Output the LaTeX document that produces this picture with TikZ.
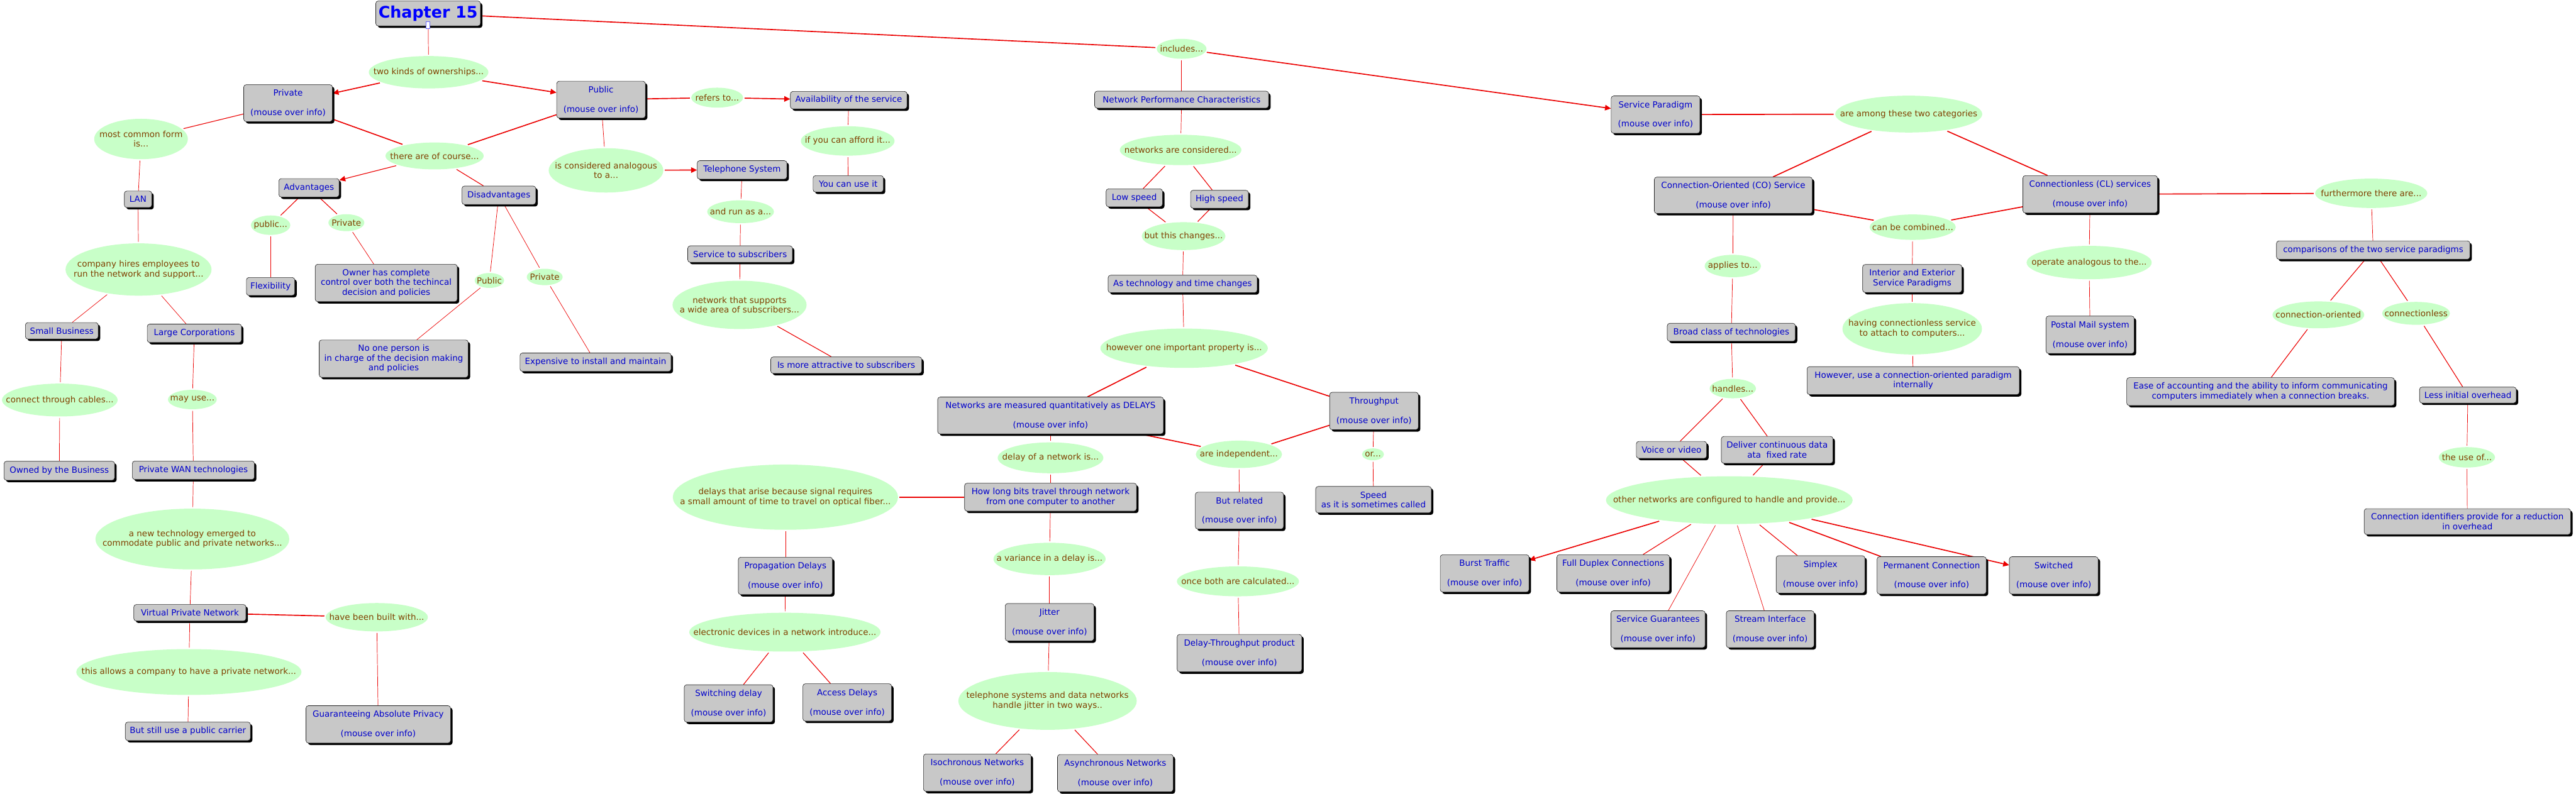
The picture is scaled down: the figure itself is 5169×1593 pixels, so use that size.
\documentclass[tikz,border=0pt]{standalone}
\usepackage{fontspec}
\setmainfont{DejaVu Sans}
\usetikzlibrary{arrows.meta,shapes.geometric,shadows,backgrounds}

\definecolor{conceptblue}{RGB}{0,0,204}
\definecolor{titleblue}{RGB}{0,0,255}
\definecolor{linkbrown}{RGB}{128,64,0}
\definecolor{linkfill}{RGB}{200,255,200}
\definecolor{boxgray}{RGB}{200,200,200}
\definecolor{linkred}{RGB}{235,0,0}

\tikzset{
  concept/.style={rectangle, rounded corners=5pt, draw=black!85, line width=0.8pt,
    fill=boxgray, text=conceptblue, font=\fontsize{17}{19.5}\selectfont,
    align=center, inner sep=2pt,
    drop shadow={shadow xshift=4pt, shadow yshift=-4pt, fill=black, opacity=1}},
  link/.style={ellipse, fill=linkfill, inner sep=0pt, outer sep=3pt},
  linktext/.style={text=linkbrown, font=\fontsize{17}{19.5}\selectfont, align=center, inner sep=0pt},
  conn/.style={draw=linkred, line width=0.9pt},
  connm/.style={conn, line width=1.4pt},
  connt/.style={conn, line width=2.1pt},
  arr/.style={-{Triangle[length=12pt,width=11pt]}, fill=linkred},
}

% link phrase: name, centre, width, height, text
\newcommand{\linknode}[5]{%
  \node[link, minimum width=#3, minimum height=#4] (#1) at (#2) {};
  \node[linktext] (#1-t) at (#1) {#5};}

\begin{document}
\begin{tikzpicture}[x=1pt, y=-1pt]
\useasboundingbox (0,0) rectangle (5169,1593);

% title
\node[concept, font=\fontsize{32}{36}\selectfont\bfseries, text=titleblue,
  minimum width=210, minimum height=50] (chap) at (859,27) {Chapter 15};
\node[draw=blue!60, fill=white, minimum width=7, minimum height=14, inner sep=0pt] (icon) at (858,50) {};

% ownership branch
\linknode{twokinds}{860,145}{240}{65}{two kinds of ownerships...}
\node[concept, minimum width=178, minimum height=74] (priv) at (578,207) {Private\\[19.5pt](mouse over info)};
\node[concept, minimum width=178, minimum height=74] (pub) at (1206,200) {Public\\[19.5pt](mouse over info)};
\linknode{common}{283,279}{188}{81}{most common form\\is...}
\linknode{ofcourse}{872,313}{197}{54}{there are of course...}
\linknode{analog}{1216,342}{230}{89}{is considered analogous\\to a...}
\node[concept, minimum width=121, minimum height=37] (adv) at (620,377) {Advantages};
\node[concept, minimum width=148, minimum height=37] (disadv) at (1001,392) {Disadvantages};
\node[concept, minimum width=55, minimum height=33] (lan) at (277,400) {LAN};
\linknode{hires}{278,541}{293}{105}{company hires employees to\\run the network and support...}
\linknode{pubdots}{543,452}{79}{39}{public...}
\linknode{privadv}{695,447}{72}{34}{Private}
\linknode{pubdis}{982,563}{59}{30}{Public}
\linknode{privdis}{1093,556}{72}{33}{Private}
\node[concept, minimum width=97, minimum height=36] (flex) at (543,575) {Flexibility};
\node[concept, minimum width=285, minimum height=75] (owner) at (775,568) {Owner has complete\\control over both the techincal\\decision and policies};
\node[concept, minimum width=299, minimum height=75] (noone) at (790,720) {No one person is\\in charge of the decision making\\and policies};
\node[concept, minimum width=303, minimum height=37] (expens) at (1195,727) {Expensive to install and maintain};
\node[concept, minimum width=146, minimum height=33] (small) at (124,664) {Small Business};
\node[concept, minimum width=189, minimum height=37] (large) at (390,669) {Large Corporations};
\linknode{cables}{120,803}{232}{66}{connect through cables...}
\linknode{mayuse}{386,802}{98}{39}{may use...}
\node[concept, minimum width=222, minimum height=38] (owned) at (119,945) {Owned by the Business};
\node[concept, minimum width=245, minimum height=37] (pwan) at (388,944) {Private WAN technologies};
\linknode{newtech}{386,1082}{389}{122}{a new technology emerged to\\commodate public and private networks...}
\node[concept, minimum width=225, minimum height=33] (vpn) at (381,1230) {Virtual Private Network};
\linknode{built}{756,1239}{205}{57}{have been built with...}
\linknode{allows}{379,1349}{452}{92}{this allows a company to have a private network...}
\node[concept, minimum width=290, minimum height=75] (guar) at (759,1454) {Guaranteeing Absolute Privacy\\[19.5pt](mouse over info)};
\node[concept, minimum width=251, minimum height=37] (still) at (377,1468) {But still use a public carrier};

% public network branch
\linknode{refers}{1439,196}{104}{40}{refers to...}
\node[concept, minimum width=234, minimum height=35] (avail) at (1703,201) {Availability of the service};
\linknode{afford}{1701,283}{188}{59}{if you can afford it...}
\node[concept, minimum width=141, minimum height=33] (canuse) at (1702,369) {You can use it};
\node[concept, minimum width=180, minimum height=37] (tel) at (1489,341) {Telephone System};
\linknode{runas}{1486,425}{134}{46}{and run as a...}
\node[concept, minimum width=210, minimum height=33] (svcsub) at (1485,510) {Service to subscribers};
\linknode{supports}{1484,612}{269}{97}{network that supports\\a wide area of subscribers...}
\node[concept, minimum width=303, minimum height=33] (attract) at (1698,733) {Is more attractive to subscribers};

% performance branch
\linknode{includes}{2371,98}{100}{40}{includes...}
\node[concept, minimum width=349, minimum height=34] (npc) at (2371,200) {Network Performance Characteristics};
\linknode{considered}{2369,301}{244}{61}{networks are considered...}
\node[concept, minimum width=113, minimum height=36] (low) at (2276,397) {Low speed};
\node[concept, minimum width=116, minimum height=36] (high) at (2447,400) {High speed};
\linknode{changes}{2375,474}{168}{56}{but this changes...}
\node[concept, minimum width=299, minimum height=35] (astech) at (2373,570) {As technology and time changes};
\linknode{property}{2376,699}{336}{79}{however one important property is...}
\node[concept, minimum width=453, minimum height=74] (meas) at (2108,834) {Networks are measured quantitatively as DELAYS\\[19.5pt](mouse over info)};
\node[concept, minimum width=178, minimum height=75] (thru) at (2757,825) {Throughput\\[19.5pt](mouse over info)};
\linknode{delayis}{2108,919}{212}{62}{delay of a network is...}
\linknode{indep}{2486,912}{173}{55}{are independent...}
\linknode{orr}{2755,912}{44}{24}{or...}
\node[concept, minimum width=232, minimum height=53] (speed) at (2756,1003) {Speed\\as it is sometimes called};
\node[concept, minimum width=345, minimum height=56] (howlong) at (2108,998) {How long bits travel through network\\from one computer to another};
\linknode{arise}{1576,998}{452}{131}{delays that arise because signal requires\\a small amount of time to travel on optical fiber...}
\node[concept, minimum width=177, minimum height=74] (related) at (2487,1025) {But related\\[19.5pt](mouse over info)};
\node[concept, minimum width=189, minimum height=75] (prop) at (1576,1156) {Propagation Delays\\[19.5pt](mouse over info)};
\linknode{electronic}{1575,1269}{384}{78}{electronic devices in a network introduce...}
\node[concept, minimum width=178, minimum height=75] (switchd) at (1462,1412) {Switching delay\\[19.5pt](mouse over info)};
\node[concept, minimum width=178, minimum height=75] (access) at (1700,1410) {Access Delays\\[19.5pt](mouse over info)};
\linknode{variance}{2106,1122}{225}{65}{a variance in a delay is...}
\node[concept, minimum width=178, minimum height=75] (jitter) at (2106,1249) {Jitter\\[19.5pt](mouse over info)};
\linknode{twoways}{2102,1407}{358}{116}{telephone systems and data networks\\handle jitter in two ways..}
\node[concept, minimum width=216, minimum height=75] (iso) at (1961,1551) {Isochronous Networks\\[19.5pt](mouse over info)};
\node[concept, minimum width=232, minimum height=75] (async) at (2238,1552) {Asynchronous Networks\\[19.5pt](mouse over info)};
\linknode{calc}{2484,1167}{245}{60}{once both are calculated...}
\node[concept, minimum width=250, minimum height=75] (dtp) at (2487,1311) {Delay-Throughput product\\[19.5pt](mouse over info)};

% service paradigm branch
\node[concept, minimum width=178, minimum height=75] (sp) at (3322,230) {Service Paradigm\\[19.5pt](mouse over info)};
\linknode{among}{3830,229}{295}{74}{are among these two categories}
\node[concept, minimum width=317, minimum height=73] (co) at (3478,392) {Connection-Oriented (CO) Service\\[19.5pt](mouse over info)};
\node[concept, minimum width=270, minimum height=75] (cl) at (4194,390) {Connectionless (CL) services\\[19.5pt](mouse over info)};
\linknode{combined}{3838,456}{173}{51}{can be combined...}
\node[concept, minimum width=199, minimum height=56] (interior) at (3837,559) {Interior and Exterior\\Service Paradigms};
\linknode{attach}{3837,660}{280}{103}{having connectionless service\\to attach to computers...}
\node[concept, minimum width=426, minimum height=56] (however) at (3839,764) {However, use a connection-oriented paradigm\\internally};
\linknode{applies}{3477,534}{113}{45}{applies to...}
\node[concept, minimum width=257, minimum height=36] (broad) at (3474,667) {Broad class of technologies};
\linknode{handles}{3477,780}{93}{39}{handles...}
\node[concept, minimum width=141, minimum height=34] (voice) at (3354,903) {Voice or video};
\node[concept, minimum width=224, minimum height=54] (deliver) at (3566,903) {Deliver continuous data\\ata\ \ fixed rate};
\linknode{provide}{3470,1004}{495}{96}{other networks are configured to handle and provide...}
\node[concept, minimum width=178, minimum height=75] (burst) at (2979,1151) {Burst Traffic\\[19.5pt](mouse over info)};
\node[concept, minimum width=226, minimum height=75] (duplex) at (3237,1151) {Full Duplex Connections\\[19.5pt](mouse over info)};
\node[concept, minimum width=189, minimum height=74] (guarant) at (3327,1263) {Service Guarantees\\[19.5pt](mouse over info)};
\node[concept, minimum width=176, minimum height=74] (stream) at (3552,1263) {Stream Interface\\[19.5pt](mouse over info)};
\node[concept, minimum width=178, minimum height=75] (simplex) at (3653,1153) {Simplex\\[19.5pt](mouse over info)};
\node[concept, minimum width=219, minimum height=75] (perm) at (3876,1155) {Permanent Connection\\[19.5pt](mouse over info)};
\node[concept, minimum width=178, minimum height=75] (switched) at (4121,1155) {Switched\\[19.5pt](mouse over info)};
\linknode{operate}{4192,527}{251}{67}{operate analogous to the...}
\node[concept, minimum width=177, minimum height=75] (postal) at (4194,672) {Postal Mail system\\[19.5pt](mouse over info)};
\linknode{further}{4758,388}{225}{59}{furthermore there are...}
\node[concept, minimum width=388, minimum height=37] (compar) at (4762,502) {comparisons of the two service paradigms};
\linknode{cooriented}{4652,632}{184}{54}{connection-oriented}
\linknode{connless}{4848,629}{136}{46}{connectionless}
\node[concept, minimum width=537, minimum height=56] (ease) at (4536,786) {Ease of accounting and the ability to inform communicating\\computers immediately when a connection breaks.};
\node[concept, minimum width=194, minimum height=32] (less) at (4952,793) {Less initial overhead};
\linknode{useof}{4950,918}{113}{41}{the use of...}
\node[concept, minimum width=414, minimum height=52] (ident) at (4951,1047) {Connection identifiers provide for a reduction\\in overhead};

% connectors
\begin{scope}[on background layer]
\draw[conn] (chap) -- (twokinds);
\draw[connt] (chap) -- (includes);
\draw[connt, arr] (twokinds) -- (priv);
\draw[connt, arr] (twokinds) -- (pub);
\draw[connm] (priv) -- (common);
\draw[connt] (priv) -- (ofcourse);
\draw[connt] (pub) -- (ofcourse);
\draw[conn] (pub) -- (analog);
\draw[connt] (pub) -- (refers);
\draw[connt, arr] (refers) -- (avail);
\draw[connt, arr] (analog) -- (tel);
\draw[connm, arr] (ofcourse) -- (adv);
\draw[connm] (ofcourse) -- (disadv);
\draw[conn] (common) -- (lan);
\draw[conn] (lan) -- (hires);
\draw[conn] (hires) -- (small);
\draw[conn] (hires) -- (large);
\draw[conn] (small) -- (cables);
\draw[conn] (cables) -- (owned);
\draw[conn] (large) -- (mayuse);
\draw[conn] (mayuse) -- (pwan);
\draw[conn] (pwan) -- (newtech);
\draw[conn] (newtech) -- (vpn);
\draw[connt] (vpn) -- (built);
\draw[conn] (built) -- (guar);
\draw[conn] (vpn) -- (allows);
\draw[conn] (allows) -- (still);
\draw[connm] (adv) -- (pubdots);
\draw[connm] (adv) -- (privadv);
\draw[conn] (pubdots) -- (flex);
\draw[conn] (privadv) -- (owner);
\draw[conn] (disadv) -- (pubdis);
\draw[conn] (disadv) -- (privdis);
\draw[conn] (pubdis) -- (noone);
\draw[conn] (privdis) -- (expens);
\draw[conn] (avail) -- (afford);
\draw[conn] (afford) -- (canuse);
\draw[conn] (tel) -- (runas);
\draw[conn] (runas) -- (svcsub);
\draw[conn] (svcsub) -- (supports);
\draw[connm] (supports) -- (attract);
\draw[connt, arr] (includes) -- (sp);
\draw[conn] (includes) -- (npc);
\draw[conn] (npc) -- (considered);
\draw[connm] (considered) -- (low);
\draw[connm] (considered) -- (high);
\draw[connm] (low) -- (changes);
\draw[connm] (high) -- (changes);
\draw[conn] (changes) -- (astech);
\draw[conn] (astech) -- (property);
\draw[connt] (property) -- (meas);
\draw[connt] (property) -- (thru);
\draw[conn] (meas) -- (delayis);
\draw[connt] (meas) -- (indep);
\draw[connt] (thru) -- (indep);
\draw[conn] (thru) -- (orr);
\draw[conn] (orr) -- (speed);
\draw[conn] (delayis) -- (howlong);
\draw[connt] (howlong) -- (arise);
\draw[conn] (howlong) -- (variance);
\draw[conn] (arise) -- (prop);
\draw[conn] (prop) -- (electronic);
\draw[connm] (electronic) -- (switchd);
\draw[connm] (electronic) -- (access);
\draw[conn] (variance) -- (jitter);
\draw[conn] (jitter) -- (twoways);
\draw[connm] (twoways) -- (iso);
\draw[connm] (twoways) -- (async);
\draw[conn] (indep) -- (related);
\draw[conn] (related) -- (calc);
\draw[conn] (calc) -- (dtp);
\draw[connt] (sp) -- (among);
\draw[connt] (among) -- (co);
\draw[connt] (among) -- (cl);
\draw[connt] (co) -- (combined);
\draw[connt] (cl) -- (combined);
\draw[conn] (combined) -- (interior);
\draw[conn] (interior) -- (attach);
\draw[conn] (attach) -- (however);
\draw[conn] (co) -- (applies);
\draw[conn] (applies) -- (broad);
\draw[conn] (broad) -- (handles);
\draw[connm] (handles) -- (voice);
\draw[connm] (handles) -- (deliver);
\draw[connm] (voice) -- (provide);
\draw[connm] (deliver) -- (provide);
\draw[connt, arr] (provide) -- (burst);
\draw[connm] (provide) -- (duplex);
\draw[conn] (provide) -- (guarant);
\draw[conn] (provide) -- (stream);
\draw[connm] (provide) -- (simplex);
\draw[connt] (provide) -- (perm);
\draw[connt, arr] (provide) -- (switched);
\draw[conn] (cl) -- (operate);
\draw[conn] (operate) -- (postal);
\draw[connt] (cl) -- (further);
\draw[conn] (further) -- (compar);
\draw[connm] (compar) -- (cooriented);
\draw[connm] (compar) -- (connless);
\draw[connm] (cooriented) -- (ease);
\draw[connm] (connless) -- (less);
\draw[conn] (less) -- (useof);
\draw[conn] (useof) -- (ident);
\end{scope}
\end{tikzpicture}
\end{document}
